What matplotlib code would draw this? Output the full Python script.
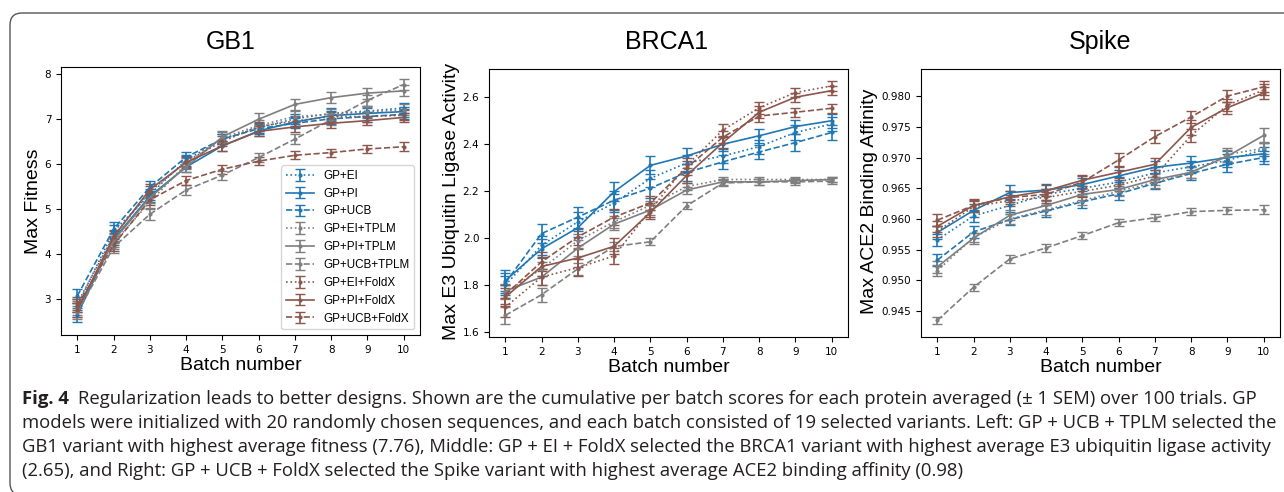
import matplotlib
matplotlib.use("Agg")
import matplotlib.pyplot as plt
from matplotlib.patches import FancyBboxPatch
from matplotlib.transforms import IdentityTransform

W, H = 1284, 492

batches = [1, 2, 3, 4, 5, 6, 7, 8, 9, 10]
labels = ["GP+EI", "GP+PI", "GP+UCB",
          "GP+EI+TPLM", "GP+PI+TPLM", "GP+UCB+TPLM",
          "GP+EI+FoldX", "GP+PI+FoldX", "GP+UCB+FoldX"]

# GB1 - max fitness
gb1_ei = [2.85, 4.50, 5.32, 6.08, 6.55, 6.80, 7.00, 7.12, 7.17, 7.24]
gb1_pi = [2.65, 4.33, 5.28, 5.93, 6.40, 6.73, 6.93, 7.07, 7.12, 7.16]
gb1_ucb = [3.07, 4.55, 5.48, 6.15, 6.55, 6.78, 6.90, 7.00, 7.05, 7.10]
gb1_ei_tplm = [2.80, 4.25, 5.15, 6.00, 6.58, 6.85, 7.05, 7.10, 7.15, 7.20]
gb1_pi_tplm = [2.75, 4.30, 5.25, 5.93, 6.60, 6.99, 7.32, 7.47, 7.57, 7.62]
gb1_ucb_tplm = [2.70, 4.15, 4.88, 5.42, 5.75, 6.14, 6.55, 6.98, 7.41, 7.76]
gb1_ei_foldx = [2.90, 4.40, 5.38, 6.05, 6.50, 6.83, 6.95, 7.05, 7.05, 7.08]
gb1_pi_foldx = [2.75, 4.38, 5.43, 6.03, 6.40, 6.72, 6.82, 6.90, 6.96, 7.03]
gb1_ucb_foldx = [2.85, 4.20, 5.20, 5.63, 5.88, 6.06, 6.19, 6.25, 6.33, 6.38]

gb1_ei_sem = [0.15, 0.14, 0.12, 0.12, 0.11, 0.11, 0.11, 0.11, 0.11, 0.11]
gb1_pi_sem = [0.16, 0.14, 0.12, 0.12, 0.11, 0.11, 0.11, 0.11, 0.11, 0.11]
gb1_ucb_sem = [0.16, 0.15, 0.13, 0.12, 0.11, 0.11, 0.11, 0.11, 0.11, 0.11]
gb1_ei_tplm_sem = [0.15, 0.14, 0.13, 0.12, 0.12, 0.12, 0.12, 0.12, 0.12, 0.12]
gb1_pi_tplm_sem = [0.15, 0.14, 0.13, 0.12, 0.12, 0.13, 0.13, 0.12, 0.12, 0.12]
gb1_ucb_tplm_sem = [0.15, 0.13, 0.12, 0.11, 0.10, 0.10, 0.11, 0.12, 0.12, 0.12]
gb1_ei_foldx_sem = [0.15, 0.14, 0.12, 0.12, 0.11, 0.11, 0.11, 0.11, 0.11, 0.11]
gb1_pi_foldx_sem = [0.15, 0.14, 0.12, 0.12, 0.11, 0.11, 0.11, 0.10, 0.10, 0.10]
gb1_ucb_foldx_sem = [0.15, 0.13, 0.12, 0.11, 0.10, 0.09, 0.09, 0.09, 0.09, 0.10]

# BRCA1 - max E3 ubiquitin ligase activity
br_ei = [1.80, 1.97, 2.07, 2.15, 2.255, 2.32, 2.35, 2.39, 2.45, 2.486]
br_pi = [1.82, 1.955, 2.045, 2.198, 2.31, 2.35, 2.40, 2.436, 2.475, 2.50]
br_ucb = [1.81, 2.02, 2.09, 2.162, 2.213, 2.28, 2.325, 2.367, 2.407, 2.45]
br_ei_tplm = [1.77, 1.87, 1.99, 2.07, 2.14, 2.22, 2.25, 2.25, 2.25, 2.25]
br_pi_tplm = [1.775, 1.835, 1.958, 2.06, 2.12, 2.205, 2.24, 2.24, 2.245, 2.25]
br_ucb_tplm = [1.672, 1.76, 1.87, 1.965, 1.985, 2.138, 2.235, 2.24, 2.24, 2.243]
br_ei_foldx = [1.707, 1.835, 1.875, 1.925, 2.12, 2.31, 2.46, 2.555, 2.62, 2.648]
br_pi_foldx = [1.75, 1.88, 1.916, 1.966, 2.11, 2.267, 2.407, 2.536, 2.60, 2.628]
br_ucb_foldx = [1.76, 1.90, 2.006, 2.09, 2.15, 2.30, 2.43, 2.52, 2.536, 2.553]

br_ei_sem = [0.040, 0.040, 0.040, 0.040, 0.035, 0.035, 0.030, 0.030, 0.030, 0.030]
br_pi_sem = [0.043, 0.040, 0.040, 0.040, 0.038, 0.035, 0.030, 0.030, 0.030, 0.030]
br_ucb_sem = [0.043, 0.042, 0.045, 0.040, 0.040, 0.035, 0.030, 0.030, 0.035, 0.030]
br_ei_tplm_sem = [0.030, 0.030, 0.030, 0.025, 0.020, 0.015, 0.012, 0.012, 0.012, 0.012]
br_pi_tplm_sem = [0.030, 0.035, 0.035, 0.025, 0.020, 0.015, 0.012, 0.012, 0.012, 0.012]
br_ucb_tplm_sem = [0.035, 0.030, 0.025, 0.020, 0.015, 0.015, 0.012, 0.012, 0.012, 0.012]
br_ei_foldx_sem = [0.040, 0.035, 0.035, 0.035, 0.030, 0.030, 0.025, 0.025, 0.020, 0.020]
br_pi_foldx_sem = [0.040, 0.040, 0.040, 0.035, 0.030, 0.030, 0.025, 0.025, 0.020, 0.020]
br_ucb_foldx_sem = [0.040, 0.040, 0.035, 0.035, 0.030, 0.030, 0.025, 0.025, 0.020, 0.020]

# Spike - max ACE2 binding affinity
sp_ei = [0.9566, 0.9605, 0.9622, 0.9640, 0.9650, 0.9660, 0.9675, 0.9685, 0.9695, 0.9713]
sp_pi = [0.9578, 0.9614, 0.9643, 0.9647, 0.9656, 0.9670, 0.9684, 0.9691, 0.9700, 0.9706]
sp_ucb = [0.9533, 0.9579, 0.9599, 0.9613, 0.9628, 0.9641, 0.9658, 0.9674, 0.9689, 0.9700]
sp_ei_tplm = [0.9516, 0.9570, 0.9600, 0.9615, 0.9630, 0.9645, 0.9660, 0.9675, 0.9705, 0.9715]
sp_pi_tplm = [0.9522, 0.9569, 0.9606, 0.9622, 0.9640, 0.9648, 0.9664, 0.9676, 0.9702, 0.9736]
sp_ucb_tplm = [0.9435, 0.9489, 0.9535, 0.9553, 0.9573, 0.9594, 0.9602, 0.9612, 0.9614, 0.9615]
sp_ei_foldx = [0.9580, 0.9620, 0.9630, 0.9635, 0.9645, 0.9655, 0.9670, 0.9736, 0.9785, 0.9810]
sp_pi_foldx = [0.9588, 0.9622, 0.9636, 0.9646, 0.9663, 0.9676, 0.9689, 0.9749, 0.9781, 0.9805]
sp_ucb_foldx = [0.9598, 0.9622, 0.9635, 0.9640, 0.9660, 0.9696, 0.9734, 0.9766, 0.9800, 0.9815]

sp_ei_sem = [0.0010, 0.0010, 0.0010, 0.0009, 0.0009, 0.0009, 0.0010, 0.0010, 0.0010, 0.0010]
sp_pi_sem = [0.0011, 0.0010, 0.0012, 0.0010, 0.0010, 0.0010, 0.0010, 0.0012, 0.0011, 0.0011]
sp_ucb_sem = [0.0010, 0.0010, 0.0009, 0.0009, 0.0010, 0.0010, 0.0010, 0.0011, 0.0012, 0.0011]
sp_ei_tplm_sem = [0.0009, 0.0008, 0.0008, 0.0008, 0.0008, 0.0008, 0.0009, 0.0009, 0.0010, 0.0010]
sp_pi_tplm_sem = [0.0010, 0.0009, 0.0008, 0.0008, 0.0009, 0.0009, 0.0009, 0.0010, 0.0010, 0.0012]
sp_ucb_tplm_sem = [0.0006, 0.0006, 0.0006, 0.0006, 0.0006, 0.0006, 0.0006, 0.0006, 0.0006, 0.0007]
sp_ei_foldx_sem = [0.0009, 0.0009, 0.0009, 0.0009, 0.0009, 0.0009, 0.0010, 0.0011, 0.0010, 0.0009]
sp_pi_foldx_sem = [0.0009, 0.0009, 0.0009, 0.0009, 0.0009, 0.0010, 0.0010, 0.0012, 0.0010, 0.0009]
sp_ucb_foldx_sem = [0.0010, 0.0010, 0.0010, 0.0009, 0.0010, 0.0012, 0.0011, 0.0010, 0.0010, 0.0009]

caption_lines = [
    "Regularization leads to better designs. Shown are the cumulative per batch scores for each protein averaged (\u00b1 1 SEM) over 100 trials. GP",
    "models were initialized with 20 randomly chosen sequences, and each batch consisted of 19 selected variants. Left: GP + UCB + TPLM selected the",
    "GB1 variant with highest average fitness (7.76), Middle: GP + EI + FoldX selected the BRCA1 variant with highest average E3 ubiquitin ligase activity",
    "(2.65), and Right: GP + UCB + FoldX selected the Spike variant with highest average ACE2 binding affinity (0.98)",
]

colors = ["#1f77b4"] * 3 + ["#7f7f7f"] * 3 + ["#8c564b"] * 3
styles = [":", "-", "--"] * 3

LABEL_FONT = ["Liberation Sans", "DejaVu Sans"]
CAP_FONT = ["Open Sans", "DejaVu Sans"]
CAP_SIZE = 13.3


def px_rect(left, top, right, bottom):
    return [left / W, 1 - bottom / H, (right - left) / W, (bottom - top) / H]


def draw_panel(ax, means, sems):
    for m, s, c, ls, lab in zip(means, sems, colors, styles, labels):
        ax.errorbar(batches, m, yerr=s, color=c, linestyle=ls, linewidth=1.2,
                    elinewidth=1.2, marker=".", markersize=4, capsize=3.5,
                    label=lab)
    ax.set_xticks(batches)
    ax.tick_params(labelsize=7.5)
    ax.set_xlabel("Batch number", fontsize=14, family=LABEL_FONT, labelpad=2)


fig = plt.figure(figsize=(W / 100, H / 100), dpi=100)

ax1 = fig.add_axes(px_rect(61, 67, 420, 335))
draw_panel(ax1,
           [gb1_ei, gb1_pi, gb1_ucb, gb1_ei_tplm, gb1_pi_tplm, gb1_ucb_tplm,
            gb1_ei_foldx, gb1_pi_foldx, gb1_ucb_foldx],
           [gb1_ei_sem, gb1_pi_sem, gb1_ucb_sem, gb1_ei_tplm_sem, gb1_pi_tplm_sem,
            gb1_ucb_tplm_sem, gb1_ei_foldx_sem, gb1_pi_foldx_sem, gb1_ucb_foldx_sem])
ax1.set_ylim(2.2, 8.15)
ax1.set_yticks([3, 4, 5, 6, 7, 8])
ax1.legend(loc="lower right", prop={"family": LABEL_FONT, "size": 8.4},
           handlelength=2.4, labelspacing=0.5)

ax2 = fig.add_axes(px_rect(489, 69, 848, 337))
draw_panel(ax2,
           [br_ei, br_pi, br_ucb, br_ei_tplm, br_pi_tplm, br_ucb_tplm,
            br_ei_foldx, br_pi_foldx, br_ucb_foldx],
           [br_ei_sem, br_pi_sem, br_ucb_sem, br_ei_tplm_sem, br_pi_tplm_sem,
            br_ucb_tplm_sem, br_ei_foldx_sem, br_pi_foldx_sem, br_ucb_foldx_sem])
ax2.set_ylim(1.58, 2.72)
ax2.set_yticks([1.6, 1.8, 2.0, 2.2, 2.4, 2.6])

ax3 = fig.add_axes(px_rect(921, 69, 1280, 337))
draw_panel(ax3,
           [sp_ei, sp_pi, sp_ucb, sp_ei_tplm, sp_pi_tplm, sp_ucb_tplm,
            sp_ei_foldx, sp_pi_foldx, sp_ucb_foldx],
           [sp_ei_sem, sp_pi_sem, sp_ucb_sem, sp_ei_tplm_sem, sp_pi_tplm_sem,
            sp_ucb_tplm_sem, sp_ei_foldx_sem, sp_pi_foldx_sem, sp_ucb_foldx_sem])
ax3.set_ylim(0.9408, 0.9844)
ax3.set_yticks([0.945, 0.950, 0.955, 0.960, 0.965, 0.970, 0.975, 0.980])
ax3.set_yticklabels(["0.945", "0.950", "0.955", "0.960", "0.965", "0.970", "0.975", "0.980"])

# titles and y labels
for x, t in [(231, "GB1"), (667, "BRCA1"), (1100, "Spike")]:
    fig.text(x / W, 1 - 49 / H, t, ha="center", va="baseline", fontsize=18,
             family=LABEL_FONT)
for x, t in [(33, "Max Fitness"), (451, "Max E3 Ubiquitin Ligase Activity"),
             (870, "Max ACE2 Binding Affinity")]:
    fig.text(x / W, 1 - 201 / H, t, ha="center", va="center", rotation=90,
             fontsize=14, family=LABEL_FONT)

# caption
renderer = fig.canvas.get_renderer()
fig_lbl = fig.text(22 / W, 1 - 404 / H, "Fig. 4", ha="left", va="baseline",
                   fontsize=CAP_SIZE, fontweight="bold", family=CAP_FONT,
                   color="#231f20")
first_x = fig_lbl.get_window_extent(renderer).x1 + 9
for i, line in enumerate(caption_lines):
    x0 = first_x if i == 0 else 22
    fig.text(x0 / W, 1 - (404 + 24 * i) / H, line, ha="left", va="baseline",
             fontsize=CAP_SIZE, family=CAP_FONT, color="#231f20")

# rounded frame around the figure
frame = FancyBboxPatch((10, -3), 1300, H - 13 + 3,
                       boxstyle="round,pad=0,rounding_size=12",
                       transform=IdentityTransform(), facecolor="none",
                       edgecolor="#555555", linewidth=1.0)
fig.patches.append(frame)

fig.savefig("out.png", dpi=100)
